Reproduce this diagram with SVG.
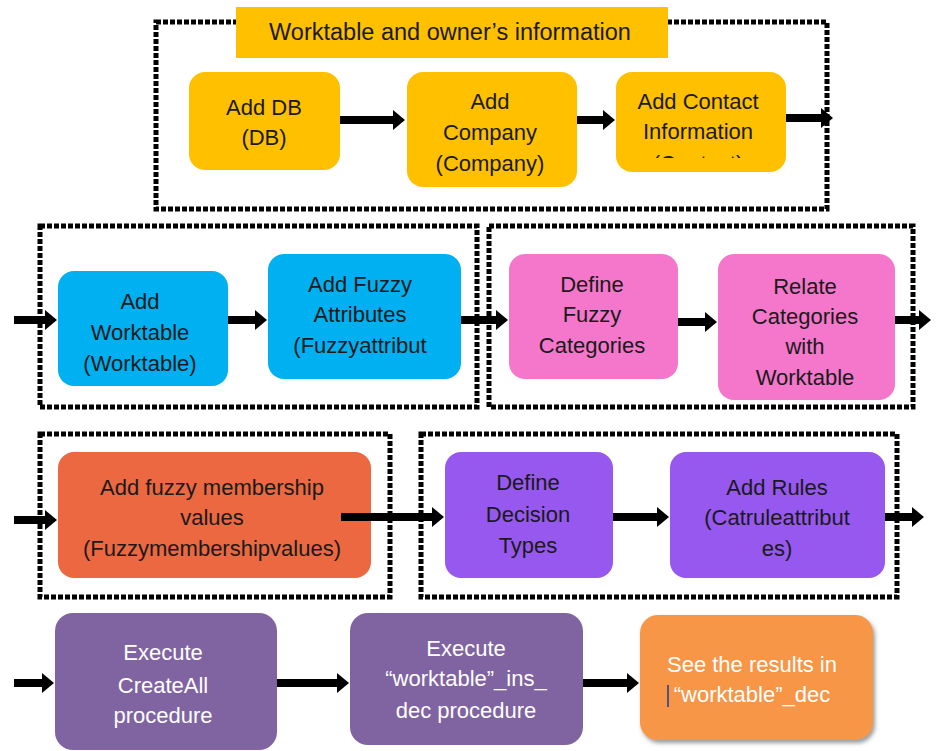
<svg xmlns="http://www.w3.org/2000/svg" width="937" height="751" viewBox="0 0 937 751">
<style>
.frame{fill:none;stroke:#000;stroke-width:5;stroke-dasharray:5 2}
.t{font-family:"Liberation Sans",Arial,sans-serif;font-size:22px;fill:#1a1a1a;text-anchor:middle}
.w{fill:#ffffff}
.arr{stroke:#000;stroke-width:8;fill:none;marker-end:url(#ah)}
.y{fill:#FFC000}.b{fill:#00B0F0}.p{fill:#F477CB}.o{fill:#EB6841}.v{fill:#9658EF}.d{fill:#8064A2}.g{fill:#F79646}
</style>
<defs>
<marker id="ah" markerUnits="userSpaceOnUse" markerWidth="12" markerHeight="20" refX="1" refY="10" orient="auto">
<path d="M0,0 L12,10 L0,20 Z" fill="#000"/>
</marker>
<clipPath id="cc"><rect x="616" y="72" width="170" height="86"/></clipPath>
<filter id="sh" x="-10%" y="-10%" width="130%" height="130%"><feDropShadow dx="2" dy="3" stdDeviation="2" flood-color="#555" flood-opacity="0.6"/></filter>
</defs>

<g id="frames">
<rect class="frame" x="156" y="22" width="671" height="187"/>
<rect class="frame" x="40" y="226" width="437" height="181"/>
<rect class="frame" x="489" y="226" width="424" height="181"/>
<rect class="frame" x="40" y="434" width="350" height="163"/>
<rect class="frame" x="421" y="434" width="476" height="163"/>
</g>

<g id="title">
<rect class="y" x="236" y="7" width="432" height="51"/>
<text class="t" x="450" y="40" style="font-size:23.5px">Worktable and owner’s information</text>
</g>

<g id="n-adddb">
<rect class="y" x="189" y="72" width="151" height="98" rx="16"/>
<text class="t" x="264" y="115">Add DB</text>
<text class="t" x="264" y="145">(DB)</text>
</g>
<g id="n-addcompany">
<rect class="y" x="407" y="72" width="170" height="115" rx="16"/>
<text class="t" x="490" y="109">Add</text>
<text class="t" x="490" y="140">Company</text>
<text class="t" x="490" y="171">(Company)</text>
</g>
<g id="n-addcontact">
<rect class="y" x="616" y="72" width="170" height="100" rx="16"/>
<g clip-path="url(#cc)">
<text class="t" x="698" y="109">Add Contact</text>
<text class="t" x="698" y="139">Information</text>
<text class="t" x="698" y="171">(Contact)</text>
</g>
</g>

<g id="n-addworktable">
<rect class="b" x="58" y="271" width="170" height="115" rx="16"/>
<text class="t" x="140" y="309">Add</text>
<text class="t" x="140" y="340">Worktable</text>
<text class="t" x="140" y="371">(Worktable)</text>
</g>
<g id="n-addfuzzyattr">
<rect class="b" x="268" y="254" width="193" height="125" rx="16"/>
<text class="t" x="360" y="292">Add Fuzzy</text>
<text class="t" x="360" y="322">Attributes</text>
<text class="t" x="360" y="353">(Fuzzyattribut</text>
</g>
<g id="n-definefuzzycat">
<rect class="p" x="509" y="254" width="169" height="125" rx="16"/>
<text class="t" x="592" y="292">Define</text>
<text class="t" x="592" y="322">Fuzzy</text>
<text class="t" x="592" y="353">Categories</text>
</g>
<g id="n-relatecat">
<rect class="p" x="718" y="254" width="177" height="146" rx="16"/>
<text class="t" x="805" y="294">Relate</text>
<text class="t" x="805" y="324">Categories</text>
<text class="t" x="805" y="354">with</text>
<text class="t" x="805" y="385">Worktable</text>
</g>

<g id="n-addmembership">
<rect class="o" x="58" y="452" width="313" height="126" rx="16"/>
<text class="t" x="212" y="495">Add fuzzy membership</text>
<text class="t" x="212" y="525">values</text>
<text class="t" x="212" y="556">(Fuzzymembershipvalues)</text>
</g>
<g id="n-definedecision">
<rect class="v" x="445" y="452" width="168" height="126" rx="16"/>
<text class="t" x="528" y="490">Define</text>
<text class="t" x="528" y="522">Decision</text>
<text class="t" x="528" y="553">Types</text>
</g>
<g id="n-addrules">
<rect class="v" x="670" y="452" width="215" height="126" rx="16"/>
<text class="t" x="777" y="495">Add Rules</text>
<text class="t" x="777" y="525">(Catruleattribut</text>
<text class="t" x="777" y="556">es)</text>
</g>

<g id="n-createall">
<rect class="d" x="55" y="613" width="222" height="137" rx="18"/>
<text class="t w" x="163" y="660">Execute</text>
<text class="t w" x="163" y="693">CreateAll</text>
<text class="t w" x="163" y="723">procedure</text>
</g>
<g id="n-insdec">
<rect class="d" x="350" y="613" width="233" height="132" rx="18"/>
<text class="t w" x="466" y="656">Execute</text>
<text class="t w" x="466" y="686">“worktable”_ins_</text>
<text class="t w" x="466" y="718">dec procedure</text>
</g>
<g id="n-results">
<rect class="g" x="640" y="615" width="233" height="125" rx="18" filter="url(#sh)"/>
<text class="t w" x="752" y="672">See the results in</text>
<text class="t w" x="752" y="702">“worktable”_dec</text>
<line x1="668" y1="685" x2="668" y2="707" stroke="#1F3A93" stroke-width="1.5"/>
</g>

<g id="connectors">
<line class="arr" x1="340" y1="120" x2="394" y2="120"/>
<line class="arr" x1="577" y1="120" x2="604" y2="120"/>
<line class="arr" x1="786" y1="118" x2="822" y2="118"/>
<line class="arr" x1="14" y1="320" x2="46" y2="320"/>
<line class="arr" x1="228" y1="320" x2="256" y2="320"/>
<line class="arr" x1="461" y1="320" x2="497" y2="320"/>
<line class="arr" x1="678" y1="322" x2="706" y2="322"/>
<line class="arr" x1="895" y1="320" x2="920" y2="320"/>
<line class="arr" x1="14" y1="520" x2="46" y2="520"/>
<line class="arr" x1="341" y1="517" x2="433" y2="517"/>
<line class="arr" x1="613" y1="517" x2="658" y2="517"/>
<line class="arr" x1="885" y1="517" x2="913" y2="517"/>
<line class="arr" x1="14" y1="683" x2="43" y2="683"/>
<line class="arr" x1="277" y1="683" x2="338" y2="683"/>
<line class="arr" x1="583" y1="683" x2="628" y2="683"/>
</g>
</svg>
